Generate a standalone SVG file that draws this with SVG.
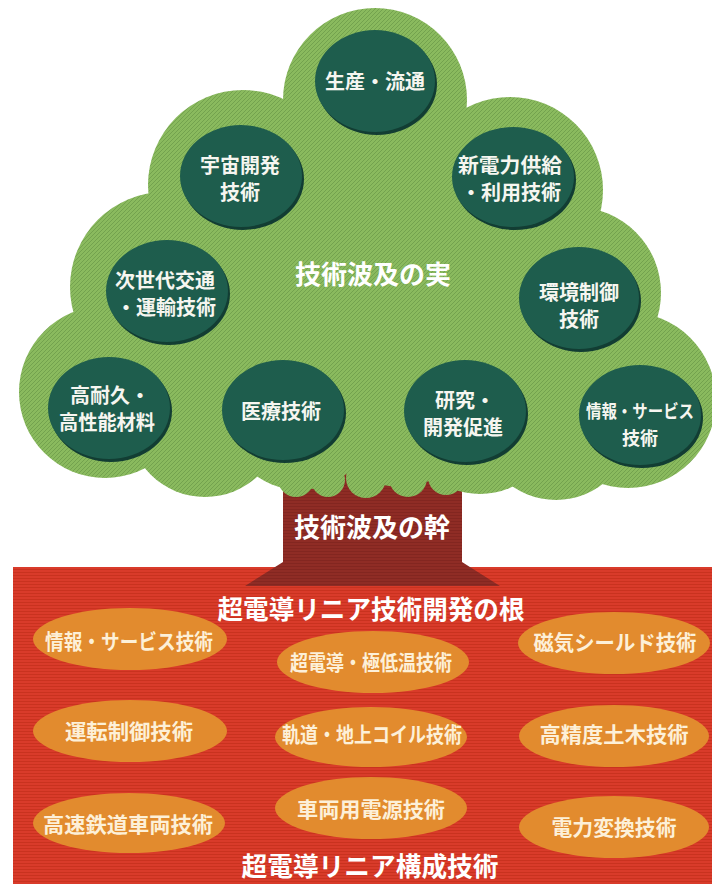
<svg xmlns="http://www.w3.org/2000/svg" width="712" height="884" viewBox="0 0 712 884">
<defs>
<pattern id="leafTex" patternUnits="userSpaceOnUse" width="4" height="4">
<rect width="4" height="4" fill="#8aba5e"/>
<path d="M-1,1 L1,-1 M0,4 L4,0 M3,5 L5,3" stroke="#73a24e" stroke-width="1"/>
</pattern>
<pattern id="groundTex" patternUnits="userSpaceOnUse" width="6" height="3">
<rect width="6" height="3" fill="#d93b2a"/>
<rect y="2" width="6" height="1" fill="#c9321f"/>
</pattern>
<pattern id="trunkTex" patternUnits="userSpaceOnUse" width="4" height="3">
<rect width="4" height="3" fill="#8f2c25"/>
<rect y="2" width="4" height="1" fill="#832620"/>
</pattern>
</defs>
<style>
.leaf{fill:url(#leafTex)}
.fruit{fill:#1e5d4d}
.shadow{fill:#123d33}
.root{fill:#e28b2e}
.t{font-family:"Noto Sans CJK JP","Noto Sans",sans-serif;font-weight:700;text-anchor:middle}
.ct{fill:#f6f6f0;font-size:20px}
.rt{fill:#fdf0d8;font-size:21px}
.title{fill:#ffffff;font-size:26px}
</style>
<rect width="712" height="884" fill="#ffffff"/>

<g id="ground">
<rect x="13" y="567" width="699" height="317" fill="url(#groundTex)"/>
</g>

<g id="trunk">
<path d="M283,470 L462,470 L462,562 L500,586 L245,586 L283,562 Z" fill="url(#trunkTex)"/>
<text class="t title" x="372" y="537">技術波及の幹</text>
</g>

<g id="foliage">
<polygon class="leaf" points="375,100 510,190 575,293 628,400 556,424 480,418 300,415 205,420 105,392 165,287 243,185"/>
<circle class="leaf" cx="375" cy="100" r="92"/>
<circle class="leaf" cx="243" cy="185" r="95"/>
<circle class="leaf" cx="510" cy="190" r="93"/>
<circle class="leaf" cx="165" cy="287" r="95"/>
<circle class="leaf" cx="575" cy="293" r="86"/>
<circle class="leaf" cx="105" cy="392" r="86"/>
<circle class="leaf" cx="628" cy="400" r="88"/>
<circle class="leaf" cx="205" cy="420" r="77"/>
<circle class="leaf" cx="300" cy="415" r="75"/>
<circle class="leaf" cx="400" cy="415" r="72"/>
<circle class="leaf" cx="480" cy="418" r="76"/>
<circle class="leaf" cx="556" cy="424" r="76"/>
<circle class="leaf" cx="375" cy="280" r="130"/>
<circle class="leaf" cx="296" cy="479" r="18"/>
<circle class="leaf" cx="328" cy="480" r="17"/>
<circle class="leaf" cx="366" cy="478" r="20"/>
<circle class="leaf" cx="408" cy="478" r="19"/>
<circle class="leaf" cx="446" cy="477" r="18"/>
<text class="t title" x="373" y="284">技術波及の実</text>
</g>

<g id="fruit-seisan">
<ellipse class="shadow" cx="377" cy="84" rx="60" ry="51"/>
<ellipse class="fruit" cx="375" cy="81" rx="60" ry="51"/>
<text class="t ct" x="375" y="89" textLength="100" lengthAdjust="spacingAndGlyphs">生産・流通</text>
</g>
<g id="fruit-uchu">
<ellipse class="shadow" cx="243" cy="179" rx="61" ry="51"/>
<ellipse class="fruit" cx="241" cy="176" rx="61" ry="51"/>
<text class="t ct" x="240" y="173">宇宙開発</text>
<text class="t ct" x="240" y="200">技術</text>
</g>
<g id="fruit-denryoku">
<ellipse class="shadow" cx="515" cy="180" rx="61" ry="50"/>
<ellipse class="fruit" cx="513" cy="177" rx="61" ry="50"/>
<text class="t ct" x="510" y="173" textLength="104" lengthAdjust="spacingAndGlyphs">新電力供給</text>
<text class="t ct" x="511" y="200">・利用技術</text>
</g>
<g id="fruit-kotsu">
<ellipse class="shadow" cx="169" cy="294" rx="61" ry="51"/>
<ellipse class="fruit" cx="167" cy="291" rx="61" ry="51"/>
<text class="t ct" x="165" y="288" textLength="100" lengthAdjust="spacingAndGlyphs">次世代交通</text>
<text class="t ct" x="166" y="315">・運輸技術</text>
</g>
<g id="fruit-kankyo">
<ellipse class="shadow" cx="581" cy="301" rx="60" ry="51"/>
<ellipse class="fruit" cx="579" cy="298" rx="60" ry="51"/>
<text class="t ct" x="579" y="300">環境制御</text>
<text class="t ct" x="579" y="327">技術</text>
</g>
<g id="fruit-zairyo">
<ellipse class="shadow" cx="111" cy="411" rx="61" ry="51"/>
<ellipse class="fruit" cx="109" cy="408" rx="61" ry="51"/>
<text class="t ct" x="110" y="403">高耐久・</text>
<text class="t ct" x="107" y="430" textLength="96" lengthAdjust="spacingAndGlyphs">高性能材料</text>
</g>
<g id="fruit-iryo">
<ellipse class="shadow" cx="285" cy="413" rx="61" ry="50"/>
<ellipse class="fruit" cx="283" cy="410" rx="61" ry="50"/>
<text class="t ct" x="281" y="419">医療技術</text>
</g>
<g id="fruit-kenkyu">
<ellipse class="shadow" cx="467" cy="414" rx="61" ry="51"/>
<ellipse class="fruit" cx="465" cy="411" rx="61" ry="51"/>
<text class="t ct" x="465" y="408">研究・</text>
<text class="t ct" x="463" y="435">開発促進</text>
</g>
<g id="fruit-joho">
<ellipse class="shadow" cx="642" cy="418" rx="61" ry="50"/>
<ellipse class="fruit" cx="640" cy="415" rx="61" ry="50"/>
<text class="t ct" x="640" y="418" style="font-size:18px" textLength="108" lengthAdjust="spacingAndGlyphs">情報・サービス</text>
<text class="t ct" x="640" y="445" style="font-size:18px">技術</text>
</g>

<g id="root-title">
<text class="t title" x="371" y="619" textLength="307" lengthAdjust="spacingAndGlyphs">超電導リニア技術開発の根</text>
</g>

<g id="root-joho">
<ellipse class="root" cx="130" cy="639" rx="97" ry="31"/>
<text class="t rt" x="129" y="649" textLength="168" lengthAdjust="spacingAndGlyphs">情報・サービス技術</text>
</g>
<g id="root-chodendo">
<ellipse class="root" cx="373" cy="662" rx="96" ry="31"/>
<text class="t rt" x="371" y="670" textLength="162" lengthAdjust="spacingAndGlyphs">超電導・極低温技術</text>
</g>
<g id="root-jiki">
<ellipse class="root" cx="614" cy="643" rx="96" ry="31"/>
<text class="t rt" x="615" y="650" textLength="163" lengthAdjust="spacingAndGlyphs">磁気シールド技術</text>
</g>
<g id="root-unten">
<ellipse class="root" cx="130" cy="731" rx="97" ry="31"/>
<text class="t rt" x="129" y="739" textLength="128" lengthAdjust="spacingAndGlyphs">運転制御技術</text>
</g>
<g id="root-kido">
<ellipse class="root" cx="371" cy="737" rx="96" ry="30"/>
<text class="t rt" x="372" y="742" textLength="180" lengthAdjust="spacingAndGlyphs">軌道・地上コイル技術</text>
</g>
<g id="root-doboku">
<ellipse class="root" cx="614" cy="736" rx="95" ry="31"/>
<text class="t rt" x="614" y="742" textLength="149" lengthAdjust="spacingAndGlyphs">高精度土木技術</text>
</g>
<g id="root-sharyo">
<ellipse class="root" cx="129" cy="823" rx="96" ry="30"/>
<text class="t rt" x="128" y="832" textLength="170" lengthAdjust="spacingAndGlyphs">高速鉄道車両技術</text>
</g>
<g id="root-dengen">
<ellipse class="root" cx="371" cy="808" rx="96" ry="31"/>
<text class="t rt" x="371" y="817" textLength="148" lengthAdjust="spacingAndGlyphs">車両用電源技術</text>
</g>
<g id="root-henkan">
<ellipse class="root" cx="614" cy="827" rx="95" ry="31"/>
<text class="t rt" x="614" y="835" textLength="125" lengthAdjust="spacingAndGlyphs">電力変換技術</text>
</g>

<g id="ground-title">
<text class="t title" x="370" y="876" textLength="257" lengthAdjust="spacingAndGlyphs">超電導リニア構成技術</text>
</g>
</svg>
